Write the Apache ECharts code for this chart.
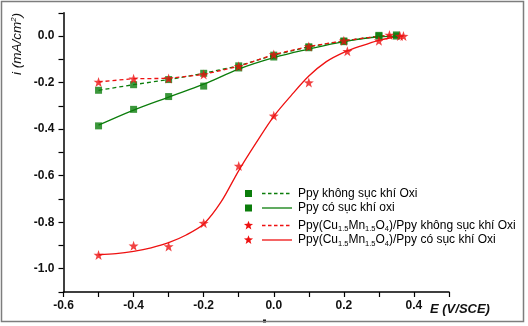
<!DOCTYPE html>
<html><head><meta charset="utf-8">
<script src="https://cdn.jsdelivr.net/npm/echarts@6/dist/echarts.min.js"></script>
<style>html,body{margin:0;padding:0;background:#fff}#c{width:528px;height:326px}</style>
</head><body><div id="c"></div>
<script>
// Measured points
const ePts = [-0.5,-0.4,-0.3,-0.2,-0.1,0,0.1,0.2,0.3,0.35];
const greenDashedVals = [-0.233,-0.209,-0.187,-0.160,-0.128,-0.082,-0.046,-0.021,0.0,0.0];
const greenSolidVals  = [-0.386,-0.315,-0.260,-0.215,-0.137,-0.090,-0.050,-0.024,0.003,0.005];
const eRedDashed = [-0.5,-0.4,-0.3,-0.2,-0.1,0,0.1,0.2,0.33,0.36];
const redDashedVals = [-0.197,-0.183,-0.182,-0.165,-0.130,-0.079,-0.045,-0.020,0.005,0.0];
const eRedSolid = [-0.5,-0.4,-0.3,-0.2,-0.1,0,0.1,0.21,0.3,0.37];
const redSolidVals = [-0.941,-0.901,-0.904,-0.804,-0.558,-0.343,-0.200,-0.065,-0.020,0.0];
// Fitted curves
const eGreenFit = [-0.5,-0.4,-0.3,-0.2,-0.1,0,0.1,0.2,0.3,0.36];
const greenFitVals = [-0.383,-0.318,-0.262,-0.207,-0.142,-0.093,-0.056,-0.024,-0.003,0.0];
const eRedFit = [-0.5,-0.45,-0.4,-0.35,-0.3,-0.25,-0.2,-0.15,-0.1,-0.05,0,0.05,0.1,0.15,0.2,0.25,0.3,0.35,0.37];
const redFitVals = [-0.940,-0.935,-0.925,-0.910,-0.888,-0.855,-0.808,-0.712,-0.578,-0.458,-0.345,-0.255,-0.172,-0.110,-0.070,-0.042,-0.018,-0.003,0.0];
// Axis ticks
const xTickLabels = [-0.6,-0.4,-0.2,0.0,0.2,0.4];
const yTickLabels = [0.0,-0.2,-0.4,-0.6,-0.8,-1.0];
const legendNames = ['Ppy không sục khí Oxi','Ppy có sục khí oxi','/Ppy không sục khí Oxi','/Ppy có sục khí Oxi'];

const GREEN = '#0b7d0b', RED = '#ee1111';
const STAR = 'path://M0,-10L2.35,-3.24L9.51,-3.09L3.8,1.24L5.88,8.09L0,4L-5.88,8.09L-3.8,1.24L-9.51,-3.09L-2.35,-3.24Z';
const zip = (a,b) => a.map((v,i)=>[v,b[i]]);
const near = (v, arr) => arr.some(t => Math.abs(t - v) < 1e-6);
const fmt = v => (Math.round(v*10)/10).toFixed(1);

function starPts(cx, cy, r){
  const p=[]; for(let k=0;k<10;k++){const a=-Math.PI/2+k*Math.PI/5; const rr=k%2?r*0.42:r; p.push([cx+rr*Math.cos(a), cy+rr*Math.sin(a)]);} return p;
}
const rich = {
  n:{fontSize:12, fontFamily:'Liberation Sans, Arial', color:'#111', lineHeight:15},
  s:{fontSize:7.5, fontFamily:'Liberation Sans, Arial', color:'#111', lineHeight:15, verticalAlign:'bottom', padding:[5,0,0,0]}
};
const formula = '{n|Ppy(Cu}{s|1.5}{n|Mn}{s|1.5}{n|O}{s|4}{n|)';
const legRows = [
  {y:193.5, color:GREEN, star:false, dash:true, text:'{n|'+legendNames[0]+'}'},
  {y:208, color:GREEN, star:false, dash:false, text:'{n|'+legendNames[1]+'}'},
  {y:225.5, color:RED, star:true, dash:true, text:formula+legendNames[2]+'}'},
  {y:240, color:RED, star:true, dash:false, text:formula+legendNames[3]+'}'}
];
const graphics = [
  {type:'rect', shape:{x:1.5,y:1.5,width:522,height:320}, style:{fill:'none', stroke:'#7d7d7d', lineWidth:1.5}, z:100},
  {type:'rect', shape:{x:263,y:319.5,width:3,height:3}, style:{fill:'#000'}},
  {type:'text', x:17, y:44, rotation:Math.PI/2, style:{text:'{i|i} (mA/cm{p|2})', rich:{i:{fontSize:13.5,fontStyle:'italic',fontFamily:'Liberation Sans, Arial'},p:{fontSize:8,fontStyle:'italic',verticalAlign:'top',padding:[0,0,6,0]}}, fontSize:13.5, fontStyle:'italic', fontFamily:'Liberation Sans, Arial', fill:'#111', align:'center', verticalAlign:'middle'}},
  {type:'text', x:430, y:309, style:{text:'E (V/SCE)', fontSize:13, fontWeight:'bold', fontStyle:'italic', fontFamily:'Liberation Sans, Arial', fill:'#111', align:'left', verticalAlign:'middle'}}
];
legRows.forEach(r=>{
  if(r.star) graphics.push({type:'polygon', shape:{points:starPts(248.5,r.y,4.8)}, style:{fill:r.color}});
  else graphics.push({type:'rect', shape:{x:245,y:r.y-3.5,width:7,height:7}, style:{fill:r.color}});
  graphics.push({type:'line', shape:{x1:262,y1:r.y,x2:292,y2:r.y}, style:{stroke:r.color, lineWidth:1.3, lineDash:r.dash?[3.5,2.5]:null}});
  graphics.push({type:'text', x:298, y:r.y, style:{text:r.text, rich:rich, align:'left', verticalAlign:'middle'}});
});

const chart = echarts.init(document.getElementById('c'));
chart.setOption({
  animation:false,
  grid:{left:63.5, right:79, top:12.8, bottom:34},
  xAxis:{type:'value', min:-0.6, max:0.5, interval:0.1,
    axisLine:{onZero:false, lineStyle:{color:'#000', width:1.5}},
    axisTick:{inside:false, length:5, lineStyle:{color:'#000', width:1.2}},
    splitLine:{show:false},
    axisLabel:{margin:8, color:'#111', fontWeight:'bold', fontSize:12, fontFamily:'Liberation Sans, Arial',
      formatter:v => near(v, xTickLabels) ? fmt(v) : ''}},
  yAxis:{type:'value', min:-1.1, max:0.1, interval:0.1,
    axisLine:{onZero:false, lineStyle:{color:'#000', width:1.5}},
    axisTick:{inside:false, length:5, lineStyle:{color:'#000', width:1.2}},
    splitLine:{show:false},
    axisLabel:{margin:9, color:'#111', fontWeight:'bold', fontSize:12, fontFamily:'Liberation Sans, Arial',
      formatter:v => near(v, yTickLabels) ? fmt(v) : ''}},
  graphic:graphics,
  series:[
    {type:'line', data:zip(ePts,greenDashedVals), symbol:'none', lineStyle:{color:GREEN, width:1.3, type:[4,3]}, z:2},
    {type:'line', data:zip(eGreenFit,greenFitVals), symbol:'none', smooth:0.4, lineStyle:{color:GREEN, width:1.3}, z:2},
    {type:'line', data:zip(eRedDashed,redDashedVals), symbol:'none', lineStyle:{color:RED, width:1.3, type:[4,3]}, z:2},
    {type:'line', data:zip(eRedFit,redFitVals), symbol:'none', smooth:0.3, lineStyle:{color:RED, width:1.3}, z:2},
    {type:'scatter', data:zip(ePts,greenSolidVals), symbol:'rect', symbolSize:7, itemStyle:{color:GREEN}, z:3},
    {type:'scatter', data:zip(ePts,greenDashedVals), symbol:'rect', symbolSize:7, itemStyle:{color:GREEN}, z:3},
    {type:'scatter', data:zip(eRedSolid,redSolidVals), symbol:STAR, symbolSize:10, itemStyle:{color:RED}, z:4},
    {type:'scatter', data:zip(eRedDashed,redDashedVals), symbol:STAR, symbolSize:10, itemStyle:{color:RED}, z:4}
  ]
});
</script></body></html>
